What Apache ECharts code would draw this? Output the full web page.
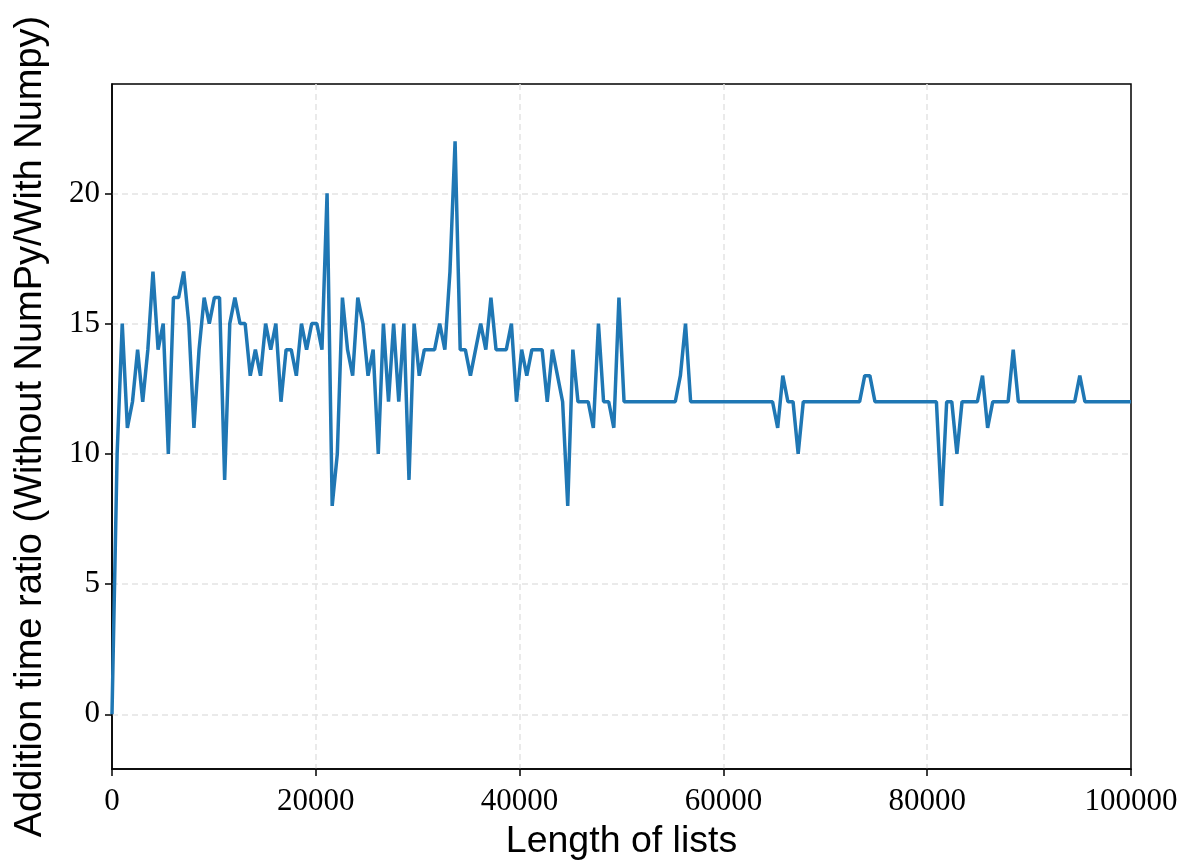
<!DOCTYPE html>
<html>
<head>
<meta charset="utf-8">
<script src="https://cdn.jsdelivr.net/npm/echarts@6/dist/echarts.min.js"></script>
<style>
  html, body { margin: 0; padding: 0; background: #fff; }
  #chart { width: 1183px; height: 866px; }
</style>
</head>
<body>
<div id="chart"></div>
<script>
// ratio values, one per list length (200 evenly spaced lengths 0..100000)
var ratios = [
  0, 10, 15, 11, 12, 14, 12, 14, 17, 14,
  15, 10, 16, 16, 17, 15, 11, 14, 16, 15,
  16, 16, 9, 15, 16, 15, 15, 13, 14, 13,
  15, 14, 15, 12, 14, 14, 13, 15, 14, 15,
  15, 14, 20, 8, 10, 16, 14, 13, 16, 15,
  13, 14, 10, 15, 12, 15, 12, 15, 9, 15,
  13, 14, 14, 14, 15, 14, 17, 22, 14, 14,
  13, 14, 15, 14, 16, 14, 14, 14, 15, 12,
  14, 13, 14, 14, 14, 12, 14, 13, 12, 8,
  14, 12, 12, 12, 11, 15, 12, 12, 11, 16,
  12, 12, 12, 12, 12, 12, 12, 12, 12, 12,
  12, 13, 15, 12, 12, 12, 12, 12, 12, 12,
  12, 12, 12, 12, 12, 12, 12, 12, 12, 12,
  11, 13, 12, 12, 10, 12, 12, 12, 12, 12,
  12, 12, 12, 12, 12, 12, 12, 13, 13, 12,
  12, 12, 12, 12, 12, 12, 12, 12, 12, 12,
  12, 12, 8, 12, 12, 10, 12, 12, 12, 12,
  13, 11, 12, 12, 12, 12, 14, 12, 12, 12,
  12, 12, 12, 12, 12, 12, 12, 12, 12, 13,
  12, 12, 12, 12, 12, 12, 12, 12, 12, 12
];
var maxLength = 100000;
var yTicks = [0, 5, 10, 15, 20];

// x = lengths of lists (np.linspace style)
var lengths = ratios.map(function (v, i) {
  return Math.round(i * maxLength / (ratios.length - 1));
});
var points = lengths.map(function (x, i) { return [x, ratios[i]]; });

var chart = echarts.init(document.getElementById('chart'));

var serifFont = '"Liberation Serif", "DejaVu Serif", serif';
var sansFont = '"Liberation Sans", "DejaVu Sans", sans-serif';

var option = {
  animation: false,
  backgroundColor: '#fff',
  grid: {
    left: 112, right: 52, top: 84, bottom: 95,
    show: true, borderColor: '#000', borderWidth: 1.5, backgroundColor: 'transparent'
  },
  xAxis: {
    type: 'value',
    min: 0, max: maxLength, interval: 20000,
    name: 'Length of lists',
    nameLocation: 'middle',
    nameGap: 54,
    nameTextStyle: { fontFamily: sansFont, fontSize: 37.5, color: '#000' },
    axisLine: { show: true, onZero: false, lineStyle: { color: '#000', width: 1.5 } },
    axisTick: { show: true, inside: false, length: 7, lineStyle: { color: '#000', width: 1.5 } },
    axisLabel: {
      fontFamily: serifFont, fontSize: 31, color: '#000', margin: 17,
      formatter: function (v) { return String(v); }
    },
    splitLine: { show: true, showMinLine: false, showMaxLine: false, lineStyle: { color: '#e3e3e3', width: 1.5, type: [6, 4] } }
  },
  yAxis: {
    type: 'value',
    min: -2.1, max: 24.2,
    name: 'Addition time ratio (Without NumPy/With Numpy)',
    nameLocation: 'middle',
    nameGap: 62,
    nameTextStyle: { fontFamily: sansFont, fontSize: 38, color: '#000' },
    axisLine: { show: true, onZero: false, lineStyle: { color: '#000', width: 1.5 } },
    axisTick: { show: true, length: 7, customValues: yTicks, lineStyle: { color: '#000', width: 1.5 } },
    axisLabel: { fontFamily: serifFont, fontSize: 31, color: '#000', margin: 12, customValues: yTicks },
    splitLine: { show: true, lineStyle: { color: '#e3e3e3', width: 1.5, type: [6, 4] } }
  },
  series: [{
    type: 'line',
    data: points,
    showSymbol: false,
    lineStyle: { color: '#1f77b4', width: 3.5 },
    itemStyle: { color: '#1f77b4' }
  }]
};

chart.setOption(option);
</script>
</body>
</html>
